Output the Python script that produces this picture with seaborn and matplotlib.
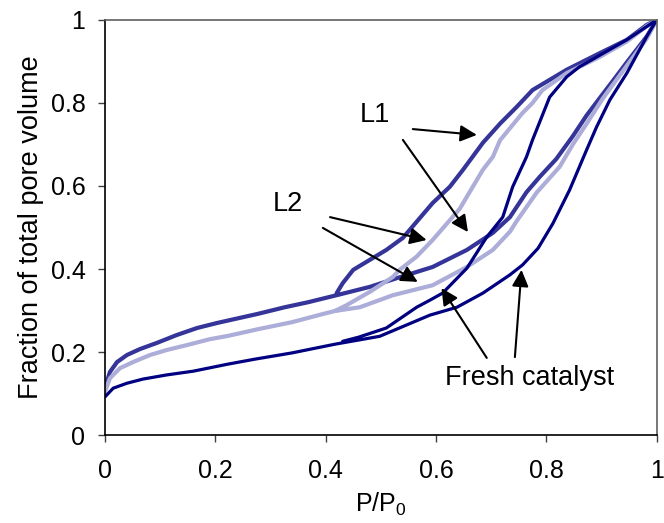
import numpy as np
import pandas as pd
import matplotlib
matplotlib.use("Agg")
import matplotlib.pyplot as plt
import seaborn as sns

# Nitrogen sorption loops, normalised to total pore volume (P/P0 vs fraction)
# L1 sample: adsorption (lower) branch, then desorption (upper) branch
l1_ads_x = [0.0, 0.009, 0.022, 0.040, 0.063, 0.094, 0.130, 0.167, 0.203, 0.277, 0.326, 0.368,
            0.42, 0.48, 0.529, 0.594, 0.656, 0.703, 0.734, 0.764, 0.788, 0.818, 0.848, 0.873,
            0.897, 0.92, 0.946, 0.982, 1.0]
l1_ads_y = [0.113, 0.152, 0.176, 0.193, 0.207, 0.222, 0.241, 0.258, 0.270, 0.292, 0.308, 0.32,
            0.337, 0.357, 0.378, 0.405, 0.446, 0.487, 0.525, 0.585, 0.622, 0.665, 0.72, 0.77,
            0.812, 0.852, 0.898, 0.96, 1.0]
l1_des_x = [1.0, 0.982, 0.946, 0.897, 0.837, 0.775, 0.746, 0.716, 0.685, 0.649, 0.625, 0.594,
            0.54, 0.51, 0.48, 0.45, 0.431, 0.42]
l1_des_y = [1.0, 0.988, 0.952, 0.92, 0.88, 0.831, 0.79, 0.75, 0.704, 0.639, 0.598, 0.559,
            0.475, 0.446, 0.422, 0.398, 0.366, 0.342]

# L2 sample
l2_ads_x = [0.0, 0.009, 0.027, 0.051, 0.082, 0.112, 0.149, 0.19, 0.223, 0.277, 0.339, 0.393,
            0.417, 0.462, 0.522, 0.594, 0.656, 0.703, 0.734, 0.746, 0.783, 0.824, 0.848, 0.873,
            0.902, 0.946, 0.982, 1.0]
l2_ads_y = [0.104, 0.137, 0.161, 0.176, 0.193, 0.205, 0.217, 0.231, 0.239, 0.255, 0.272, 0.291,
            0.299, 0.308, 0.337, 0.361, 0.405, 0.446, 0.49, 0.515, 0.585, 0.646, 0.70, 0.75,
            0.81, 0.89, 0.955, 1.0]
l2_des_x = [1.0, 0.982, 0.946, 0.897, 0.837, 0.793, 0.775, 0.757, 0.716, 0.703, 0.685, 0.643,
            0.594, 0.565, 0.534, 0.522, 0.48, 0.438, 0.417]
l2_des_y = [1.0, 0.985, 0.948, 0.911, 0.872, 0.831, 0.8, 0.776, 0.71, 0.67, 0.639, 0.545,
            0.47, 0.43, 0.398, 0.381, 0.345, 0.313, 0.299]

# Fresh catalyst
fr_ads_x = [0.0, 0.015, 0.04, 0.069, 0.112, 0.16, 0.223, 0.272, 0.339, 0.417, 0.498, 0.589,
            0.638, 0.685, 0.734, 0.757, 0.785, 0.812, 0.842, 0.873, 0.891, 0.915, 0.946, 0.982, 1.0]
fr_ads_y = [0.092, 0.113, 0.125, 0.135, 0.145, 0.154, 0.171, 0.183, 0.198, 0.219, 0.238, 0.289,
            0.308, 0.342, 0.386, 0.41, 0.45, 0.51, 0.59, 0.687, 0.742, 0.807, 0.872, 0.96, 1.0]
fr_des_x = [1.0, 0.946, 0.884, 0.86, 0.837, 0.806, 0.775, 0.764, 0.739, 0.721, 0.692, 0.656,
            0.612, 0.589, 0.565, 0.51, 0.46, 0.431]
fr_des_y = [1.0, 0.952, 0.905, 0.887, 0.863, 0.814, 0.711, 0.67, 0.598, 0.525, 0.477, 0.402,
            0.342, 0.325, 0.308, 0.258, 0.236, 0.226]

x_ticks = [0, 0.2, 0.4, 0.6, 0.8, 1]
y_ticks = [0, 0.2, 0.4, 0.6, 0.8, 1]

sns.set_style("white")
plt.rcParams["font.family"] = ["Liberation Sans", "DejaVu Sans"]
plt.rcParams["mathtext.fontset"] = "custom"
plt.rcParams["mathtext.rm"] = "Liberation Sans"
plt.rcParams["mathtext.it"] = "Liberation Sans:italic"
plt.rcParams["text.color"] = "black"
plt.rcParams["axes.labelcolor"] = "black"
plt.rcParams["xtick.labelcolor"] = "black"
plt.rcParams["ytick.labelcolor"] = "black"

FS_TICK = 18
FS_TEXT = 19.5

fig = plt.figure(figsize=(6.64, 5.23), dpi=100)
ax = fig.add_axes([0.158, 0.168, 0.831, 0.794])

series = [
    ("L1", l1_ads_x, l1_ads_y, l1_des_x, l1_des_y, "#343499", 3.0),
    ("L2", l2_ads_x, l2_ads_y, l2_des_x, l2_des_y, "#ADADD9", 3.0),
    ("Fresh", fr_ads_x, fr_ads_y, fr_des_x, fr_des_y, "#000080", 2.3),
]
for name, ax_, ay_, dx_, dy_, col, lw in series:
    df = pd.DataFrame({"p": list(ax_) + list(dx_), "v": list(ay_) + list(dy_)})
    sns.lineplot(data=df, x="p", y="v", sort=False, color=col, lw=lw, ax=ax,
                 estimator=None)

ax.set_xlim(0, 1)
ax.set_ylim(0, 1)
ax.set_xticks(x_ticks)
ax.set_yticks(y_ticks)
ax.set_xticklabels([f"{v:g}" for v in x_ticks])
ax.set_yticklabels([f"{v:g}" for v in y_ticks])
ax.tick_params(axis="both", direction="out", length=5, width=1, labelsize=FS_TICK,
               color="#404040", labelcolor="black", bottom=True, left=True)
ax.tick_params(axis="y", pad=9)
ax.tick_params(axis="x", pad=12)
for side in ["left", "bottom"]:
    ax.spines[side].set_color("black")
    ax.spines[side].set_linewidth(1.2)
for side in ["top", "right"]:
    ax.spines[side].set_color("#606060")
    ax.spines[side].set_linewidth(1.2)

ax.set_xlabel("P/P$_\\mathrm{0}$", fontsize=FS_TICK, labelpad=6, color="black")
ax.set_ylabel("Fraction of total pore volume", fontsize=FS_TEXT, labelpad=5, color="black")

arrow = dict(arrowstyle="-|>", color="black", lw=1.5, mutation_scale=25,
             shrinkA=0, shrinkB=0)
ax.text(0.489, 0.771, "L1", fontsize=FS_TEXT, ha="center", va="center", color="black")
ax.annotate("", xy=(0.674, 0.723), xytext=(0.558, 0.737), arrowprops=arrow)
ax.annotate("", xy=(0.658, 0.489), xytext=(0.54, 0.711), arrowprops=arrow)

ax.text(0.332, 0.557, "L2", fontsize=FS_TEXT, ha="center", va="center", color="black")
ax.annotate("", xy=(0.583, 0.47), xytext=(0.408, 0.525), arrowprops=arrow)
ax.annotate("", xy=(0.567, 0.369), xytext=(0.395, 0.499), arrowprops=arrow)

ax.text(0.77, 0.137, "Fresh catalyst", fontsize=FS_TEXT, ha="center", va="center",
        color="black")
ax.annotate("", xy=(0.61, 0.354), xytext=(0.692, 0.186), arrowprops=arrow)
ax.annotate("", xy=(0.755, 0.398), xytext=(0.743, 0.188), arrowprops=arrow)

fig.savefig("out.png", dpi=100)
